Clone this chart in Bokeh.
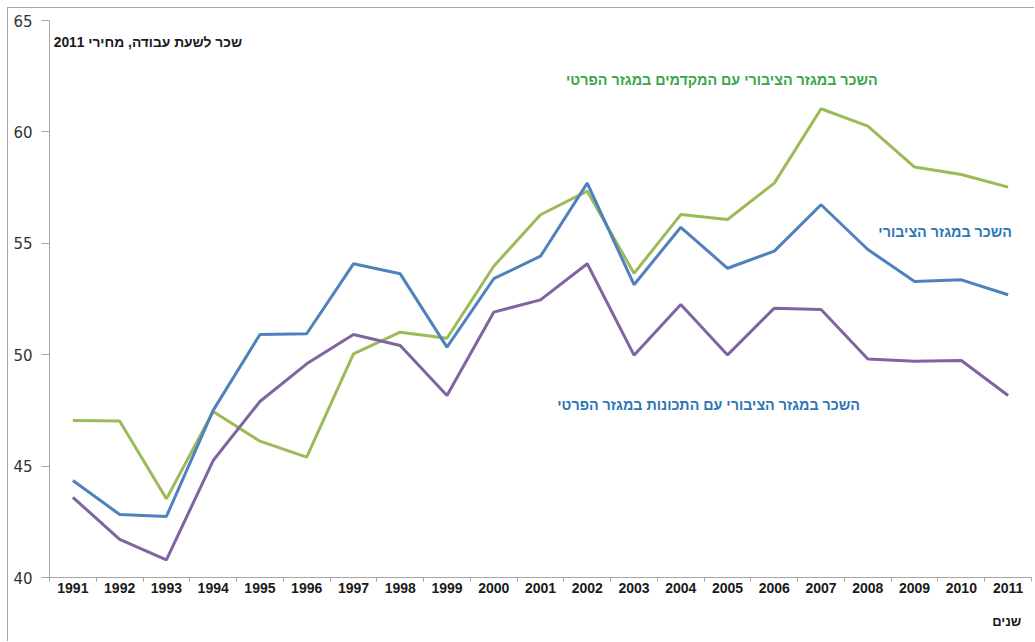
from bokeh.plotting import figure
from bokeh.models import Range1d, FixedTicker, Label, LinearAxis
from bokeh.embed import file_html
from bokeh.resources import INLINE

years = [str(y) for y in range(1991, 2012)]

# hourly wage, 2011 prices
public_with_private_premiums = [47.05, 47.02, 43.53, 47.45, 46.12, 45.40, 50.04, 51.01, 50.74, 53.97,
                                56.28, 57.34, 53.65, 56.29, 56.07, 57.70, 61.04, 60.26, 58.42, 58.09, 57.52]
public_sector = [44.35, 42.83, 42.74, 47.50, 50.91, 50.94, 54.08, 53.63, 50.34, 53.41,
                 54.42, 57.70, 53.14, 55.72, 53.88, 54.65, 56.73, 54.72, 53.29, 53.36, 52.69]
public_with_private_traits = [43.60, 41.71, 40.79, 45.25, 47.90, 49.59, 50.91, 50.41, 48.17, 51.91,
                              52.46, 54.08, 49.98, 52.25, 49.99, 52.09, 52.03, 49.81, 49.71, 49.74, 48.17]

y_ticks = [40, 45, 50, 55, 60, 65]

title_text = "שכר לשעת עבודה, מחירי 2011"
x_title_text = "שנים"
label_premiums = "השכר במגזר הציבורי עם המקדמים במגזר הפרטי"
label_public = "השכר במגזר הציבורי"
label_traits = "השכר במגזר הציבורי עם התכונות במגזר הפרטי"

GREEN = "#9bbb59"
BLUE = "#4f81bd"
PURPLE = "#8064a2"
AXIS = "#a6a6a6"
FONT = "Liberation Sans"

n = len(years)
xs = [i + 0.5 for i in range(n)]

p = figure(width=1027, height=634, output_backend="svg", toolbar_location=None,
           x_range=Range1d(0, n), y_range=Range1d(40, 65),
           min_border_left=41, min_border_right=4, min_border_top=12, min_border_bottom=65,
           styles={"margin-left": "7px", "margin-top": "7px",
                   "border-left": "1px solid #a6a6a6", "border-top": "1px solid #a6a6a6"})
p.outline_line_color = None
p.grid.visible = False
p.background_fill_color = "white"
p.border_fill_color = "white"

for ys, col in [(public_with_private_premiums, GREEN), (public_sector, BLUE),
                (public_with_private_traits, PURPLE)]:
    p.line(xs, ys, line_color=col, line_width=3)

# x axis: year labels centred in each category, ticks on the boundaries
p.xaxis.ticker = FixedTicker(ticks=xs, minor_ticks=list(range(n + 1)))
p.xaxis.major_label_overrides = {x: y for x, y in zip(xs, years)}
p.xaxis.major_tick_out = 0
p.xaxis.major_tick_in = 0
p.xaxis.minor_tick_out = 4
p.xaxis.minor_tick_in = 0
p.xaxis.minor_tick_line_color = AXIS
p.xaxis.axis_line_color = AXIS
p.xaxis.major_label_text_font = FONT
p.xaxis.major_label_text_font_style = "bold"
p.xaxis.major_label_text_font_size = "14px"
p.xaxis.major_label_text_color = "#1a1a1a"
p.xaxis.major_label_standoff = 1

# second, bare axis below carrying the x title at the right end
title_axis = LinearAxis(ticker=FixedTicker(ticks=[20.47], minor_ticks=[]),
                        major_label_overrides={20.47: x_title_text},
                        axis_line_color=None, major_tick_line_color=None,
                        major_label_text_font=FONT, major_label_text_font_style="bold",
                        major_label_text_font_size="13px", major_label_text_color="#1a1a1a",
                        major_label_standoff=12)
p.add_layout(title_axis, "below")

p.yaxis.ticker = FixedTicker(ticks=y_ticks, minor_ticks=[])
p.yaxis.major_tick_out = 8
p.yaxis.major_tick_in = 0
p.yaxis.major_tick_line_color = AXIS
p.yaxis.axis_line_color = AXIS
p.yaxis.major_label_text_font = "DejaVu Sans"
p.yaxis.major_label_text_font_size = "15px"
p.yaxis.major_label_text_color = "#333333"
p.yaxis.major_label_standoff = 9

p.add_layout(Label(x=4.10, y=64.01, text=title_text, text_align="right", text_baseline="middle",
                   text_font=FONT, text_font_style="bold", text_font_size="13.8px", text_color="#1a1a1a"))
p.add_layout(Label(x=17.71, y=62.35, text=label_premiums, text_align="right", text_baseline="middle",
                   text_font=FONT, text_font_style="bold", text_font_size="14.3px", text_color="#38a64a"))
p.add_layout(Label(x=20.58, y=55.5, text=label_public, text_align="right", text_baseline="middle",
                   text_font=FONT, text_font_style="bold", text_font_size="14.3px", text_color="#2e75b6"))
p.add_layout(Label(x=17.33, y=47.76, text=label_traits, text_align="right", text_baseline="middle",
                   text_font=FONT, text_font_style="bold", text_font_size="14.3px", text_color="#2e75b6"))

open("out.html", "w").write(file_html(p, INLINE))
